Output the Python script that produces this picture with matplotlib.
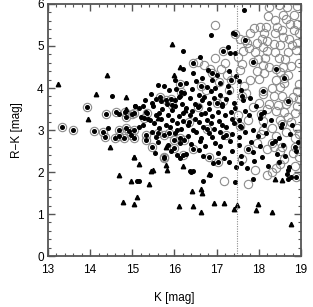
import matplotlib
matplotlib.use("Agg")
import matplotlib.pyplot as plt

plt.rcParams["font.family"] = ["Liberation Sans", "DejaVu Sans"]

# filled triangles
tri_k = [13.25, 14.39, 14.15, 14.84, 13.95, 14.86, 14.47, 15.03, 14.69, 14.77, 15.16, 14.96,
         15.05, 15.11, 15.45, 15.39, 15.82, 16.10, 16.42, 16.63, 16.66, 16.45, 16.63, 16.94,
         17.18, 17.40, 17.47, 17.97, 17.93, 18.32, 18.77, 18.37, 18.55, 16.82, 16.21, 15.49,
         15.94, 16.14, 15.99, 15.80, 15.80, 15.04, 16.25, 15.62]
tri_rk = [4.10, 4.30, 3.86, 3.78, 3.26, 3.50, 2.60, 2.35, 1.93, 1.29, 2.19, 1.79,
          1.25, 1.40, 2.03, 1.71, 2.04, 1.20, 1.56, 1.59, 1.49, 1.19, 1.05, 1.26,
          1.26, 1.12, 1.22, 1.23, 1.10, 1.05, 0.76, 1.84, 1.80, 1.95, 2.14, 2.05,
          5.04, 4.51, 4.31, 2.60, 2.17, 2.36, 3.48, 3.28]

# filled dots with a grey ring round them
cd_k = [13.33, 13.59, 13.93, 14.09, 14.31, 14.37, 14.36, 14.62, 14.82, 14.85, 15.00, 14.69,
        14.85, 14.93, 14.58, 14.81, 14.69, 14.97, 15.05, 15.04, 15.36, 15.28, 15.04, 15.33,
        15.33, 15.47, 15.62, 15.74, 15.86, 15.98, 16.12, 16.23, 15.76, 16.00, 16.20, 15.76,
        16.82, 17.04, 16.14, 16.15, 15.65, 15.91, 15.80, 15.94, 16.45, 17.43, 17.68, 18.88,
        16.35, 16.55, 16.78, 17.00, 17.22, 16.62, 16.90, 17.35, 17.60, 17.85, 18.10, 18.40,
        18.70, 17.75, 18.05, 18.55, 18.30, 17.15, 16.45, 17.55, 18.85, 18.60]
cd_rk = [3.08, 2.99, 3.55, 2.98, 2.96, 3.38, 2.83, 3.44, 3.42, 3.32, 3.39, 3.00,
         3.04, 2.98, 2.80, 2.80, 2.86, 2.88, 2.82, 3.40, 3.41, 3.29, 3.00, 2.88,
         2.76, 2.60, 2.92, 2.88, 2.92, 2.76, 2.82, 2.76, 2.34, 2.58, 2.40, 2.35,
         2.35, 2.24, 4.09, 3.90, 3.79, 3.73, 3.71, 3.60, 4.59, 5.28, 5.14, 1.89,
         3.18, 3.55, 3.02, 3.65, 2.88, 4.05, 4.35, 4.20, 3.80, 4.62, 3.92, 4.45,
         3.70, 2.55, 3.38, 3.15, 2.70, 4.88, 2.55, 3.10, 2.60, 4.25]

# plain filled dots
dot_k = [14.53, 14.69, 15.06, 14.42, 15.10, 15.15, 15.54, 16.36, 16.43, 16.83, 16.68, 17.43,
         17.85, 18.66, 18.70, 18.75, 18.70, 16.39, 16.06, 17.64, 16.87, 17.39, 17.27, 17.32,
         17.44, 16.20, 16.60, 16.20, 16.02, 15.61, 15.55, 15.07, 15.26, 15.17, 15.38, 16.14,
         16.06,
         16.45, 16.80, 17.00, 17.30, 16.65, 17.45, 16.90,
         15.75, 16.28, 16.52, 16.77, 17.08, 17.27, 17.52, 16.04, 16.96,
         15.45, 15.88, 16.23, 16.42, 16.58, 16.86, 17.07, 17.28, 17.57, 16.12, 16.71,
         15.30, 15.47, 15.68, 16.02, 16.18, 16.37, 16.48, 16.66, 16.82, 16.93, 17.12, 17.23,
         17.42, 17.62, 17.78, 15.83, 16.11,
         15.15, 15.32, 15.48, 15.63, 15.71, 15.93, 16.02, 16.19, 16.27, 16.41, 16.58, 16.73,
         16.81, 17.02, 17.12, 17.33, 17.44, 17.68, 17.92, 18.13,
         15.20, 15.43, 15.57, 15.69, 15.84, 15.94, 16.10, 16.19, 16.36, 16.48, 16.63, 16.76,
         16.88, 17.06, 17.19, 17.37, 17.53, 17.77, 18.02, 18.28,
         15.25, 15.52, 15.63, 15.81, 15.90, 16.07, 16.16, 16.32, 16.44, 16.57, 16.68, 16.86,
         16.94, 17.12, 17.23, 17.42, 17.58, 17.87, 18.13, 18.52, 18.78,
         15.47, 15.56, 16.02, 16.33, 16.52, 16.63, 16.81, 16.90, 17.07, 17.16, 17.36, 17.52,
         17.68, 17.97, 18.18, 18.47, 18.73,
         15.62, 15.84, 16.12, 16.38, 16.61, 16.73, 16.97, 17.08, 17.32, 17.53, 17.82, 18.03,
         18.37, 18.58, 18.92,
         15.92, 16.28, 16.57, 16.68, 17.02, 17.18, 17.37, 17.58, 17.87, 18.08, 18.42, 18.63,
         18.87,
         16.92, 17.28, 17.46, 17.57, 17.72, 17.88, 18.22, 18.48, 18.72]
dot_rk = [3.82, 3.37, 3.57, 3.04, 1.79, 1.79, 2.46, 2.02, 2.02, 1.93, 1.78, 1.77,
          1.83, 1.95, 1.84, 1.89, 2.05, 2.00, 2.40, 5.86, 5.26, 5.30, 4.98, 4.83,
          4.84, 4.89, 4.73, 4.45, 4.18, 4.07, 3.74, 3.58, 3.58, 3.08, 3.26, 2.34,
          3.00,
          4.35, 4.42, 4.30, 4.40, 4.25, 4.28, 4.20,
          4.05, 4.12, 4.17, 4.03, 4.13, 4.04, 4.16, 3.98, 4.01,
          3.85, 3.96, 3.87, 3.97, 3.84, 3.93, 3.83, 3.91, 3.96, 3.81, 3.79,
          3.72, 3.64, 3.69, 3.71, 3.63, 3.76, 3.61, 3.71, 3.64, 3.77, 3.61, 3.73,
          3.64, 3.71, 3.77, 3.61, 3.79,
          3.52, 3.43, 3.57, 3.41, 3.49, 3.47, 3.58, 3.40, 3.53, 3.46, 3.56, 3.41,
          3.51, 3.44, 3.57, 3.43, 3.52, 3.46, 3.56, 3.44,
          3.30, 3.24, 3.36, 3.27, 3.36, 3.23, 3.33, 3.21, 3.36, 3.27, 3.39, 3.24,
          3.33, 3.21, 3.36, 3.27, 3.24, 3.36, 3.29, 3.24,
          3.11, 3.16, 3.04, 3.13, 3.06, 3.17, 3.03, 3.11, 3.01, 3.19, 3.07, 3.16,
          3.03, 3.11, 3.06, 3.17, 3.07, 3.01, 3.13, 3.06, 3.11,
          2.96, 2.84, 2.93, 2.86, 2.96, 2.81, 2.93, 2.84, 2.96, 2.83, 2.91, 2.84,
          2.96, 2.86, 2.93, 2.81, 2.91,
          2.71, 2.64, 2.69, 2.66, 2.73, 2.61, 2.69, 2.63, 2.73, 2.64, 2.71, 2.61,
          2.73, 2.64, 2.71,
          2.51, 2.44, 2.53, 2.37, 2.46, 2.34, 2.51, 2.39, 2.47, 2.36, 2.44, 2.39,
          2.51,
          2.21, 2.24, 2.13, 2.21, 2.09, 2.26, 2.14, 2.23, 2.11]

# open grey rings
ring_k = [18.24, 18.47, 18.67, 18.91, 18.21, 18.37, 18.57, 18.65, 18.83, 18.91, 18.73, 16.95,
          17.88, 18.02, 18.16, 18.43, 18.55, 18.83, 18.95, 18.11, 18.39,
          17.80, 18.08, 18.19, 18.57, 18.71, 18.91, 18.79, 18.51,
          18.35, 18.10, 17.96, 17.72, 17.55, 17.76,
          17.62, 17.90, 18.20, 18.38, 18.70, 18.88, 17.50, 17.98, 18.15,
          18.48, 18.62, 18.95, 17.60, 18.10, 18.25, 18.58, 18.75,
          16.55, 16.70, 16.95, 17.20,
          17.55, 17.95, 18.12, 18.50, 18.68, 17.80, 18.00, 18.40,
          18.60, 18.95, 17.65, 18.30, 18.50, 18.90,
          17.70, 18.10, 18.35, 18.55, 18.80, 18.00, 18.25, 18.45, 18.65, 18.90, 17.85, 18.20,
          18.40, 18.60, 18.85,
          17.75, 18.10, 18.50, 18.75, 18.90, 18.30, 18.65, 18.40, 18.05, 18.85, 18.55, 18.20,
          18.80, 17.95, 18.50,
          17.18, 17.74, 18.19, 18.30, 18.40, 18.50, 18.85, 18.95,
          18.95, 18.70, 18.95, 17.60, 17.90, 18.60, 18.35, 18.10, 17.50, 17.25, 17.10,
          16.85, 17.05, 17.30, 17.15, 16.75]
ring_rk = [5.92, 5.98, 5.92, 5.95, 5.72, 5.62, 5.74, 5.64, 5.74, 5.52, 5.52, 5.49,
           5.42, 5.46, 5.46, 5.45, 5.38, 5.38, 5.30, 5.30, 5.30,
           5.30, 5.16, 5.13, 5.21, 5.16, 5.08, 5.02, 5.02,
           5.05, 4.98, 5.07, 5.07, 5.16, 4.95,
           4.88, 4.85, 4.88, 4.85, 4.85, 4.90, 4.75, 4.68, 4.72,
           4.72, 4.68, 4.60, 4.58, 4.55, 4.50, 4.50, 4.52,
           4.62, 4.55, 4.72, 4.60,
           4.42, 4.40, 4.35, 4.38, 4.32, 4.20, 4.22, 4.18,
           4.12, 4.10, 4.05, 4.00, 4.02, 3.92,
           3.88, 3.85, 3.80, 3.82, 3.78, 3.65, 3.62, 3.60, 3.62, 3.58, 3.55, 3.50,
           3.45, 3.42, 3.40,
           3.25, 3.22, 3.25, 3.20, 3.05, 3.05, 2.95, 2.85, 2.90, 2.80, 2.60, 2.55,
           2.45, 2.70, 2.50,
           1.79, 1.71, 1.94, 2.00, 2.10, 2.20, 2.15, 2.35,
           2.90, 3.30, 3.75, 2.30, 2.05, 2.30, 2.60, 3.00, 3.35, 4.30, 4.45,
           4.45, 4.15, 3.95, 3.70, 3.95]

cut_k = 17.47

fig = plt.figure(figsize=(3.13, 3.07), dpi=100)
ax = fig.add_axes([0.153, 0.166, 0.809, 0.821])

grey = "#8c8c8c"
ax.plot(ring_k, ring_rk, "o", ms=6.0, mfc="none", mec=grey, mew=0.8, ls="none")
ax.plot(cd_k, cd_rk, "o", ms=6.0, mfc="none", mec=grey, mew=0.8, ls="none")
ax.plot(cd_k, cd_rk, "o", ms=2.6, color="black", ls="none")
ax.plot(dot_k, dot_rk, "o", ms=2.6, color="black", ls="none")
ax.plot(tri_k, tri_rk, "^", ms=3.2, color="black", ls="none")

ax.axvline(cut_k, color=grey, ls=(0, (1, 1.2)), lw=0.8)

ax.set_xlim(13, 19)
ax.set_ylim(0, 6)
ax.set_xticks(range(13, 20))
ax.set_yticks(range(0, 7))
ax.xaxis.set_minor_locator(matplotlib.ticker.MultipleLocator(0.2))
ax.yaxis.set_minor_locator(matplotlib.ticker.MultipleLocator(0.2))
ax.tick_params(which="both", direction="in", top=True, right=True, color="#555555",
               labelsize=8.5)
ax.tick_params(axis="x", pad=6)
ax.tick_params(axis="y", pad=3)
ax.tick_params(which="major", length=5, width=1)
ax.tick_params(which="minor", length=2.5, width=0.8)
for s in ax.spines.values():
    s.set_color("#555555")
    s.set_linewidth(1.3)

ax.set_xlabel("K [mag]", fontsize=8.5, labelpad=11)
ax.set_ylabel("R\u2212K [mag]", fontsize=8.5, labelpad=10)

fig.savefig("out.png", dpi=100)
